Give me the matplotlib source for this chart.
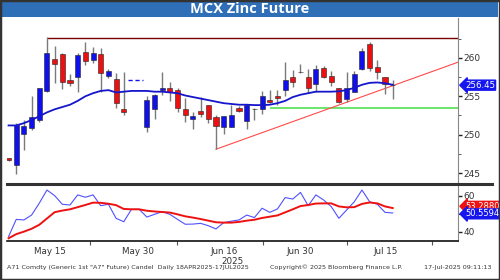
import numpy as np
import matplotlib
matplotlib.use('Agg')
import matplotlib.pyplot as plt
from matplotlib.patches import Rectangle
from matplotlib.lines import Line2D

# candle data, trading days 8 May 2025 .. 17 Jul 2025 (16, 17 = no data)
opens  = [246.9, 246.05, 250.05, 250.9, 251.9, 255.7, 259.8, 260.5, 257.1, 257.55,
          260.8, 259.75, 260.5, 257.65, 257.3, 253.3, np.nan, np.nan, 251.05, 253.3,
          255.8, 256.05, 255.8, 253.3, 252.0, 253.1, 253.8, 252.3, 250.95, 251.05,
          253.45, 251.8, 253.4, 253.3, 254.5, 255.05, 255.8, 257.5, 258.1, 257.5,
          256.6, 258.65, 257.65, 256.05, 254.6, 255.6, 258.5, 261.8, 258.8, 257.5, 256.45]
highs  = [247.0, 251.5, 251.9, 255.0, 256.1, 262.7, 261.6, 260.6, 257.9, 260.6,
          262.1, 261.4, 261.3, 258.5, 258.0, 258.1, np.nan, np.nan, 255.05, 255.3,
          258.1, 256.9, 256.05, 254.75, 253.0, 254.95, 253.85, 252.6, 252.45, 253.9,
          253.75, 254.0, 253.5, 255.7, 255.8, 255.8, 259.45, 258.45, 259.2, 258.5,
          259.1, 258.95, 258.35, 256.1, 258.1, 258.35, 261.3, 262.1, 259.75, 257.55, 257.1]
lows   = [246.6, 244.9, 248.0, 250.6, 251.7, 255.6, 256.7, 255.9, 256.35, 255.6,
          259.1, 259.3, 255.6, 257.35, 253.5, 252.6, np.nan, np.nan, 250.4, 252.0,
          255.2, 254.4, 252.9, 251.7, 250.8, 252.3, 251.5, 248.1, 250.1, 251.0,
          253.0, 250.7, 251.9, 252.65, 254.1, 253.9, 255.1, 256.2, 258.05, 255.4,
          255.6, 257.35, 256.35, 254.1, 254.2, 255.55, 258.4, 258.35, 257.2, 255.25, 254.65]
closes = [246.7, 251.2, 251.1, 252.3, 256.05, 260.6, 259.2, 256.8, 256.7, 260.35,
          259.65, 260.6, 258.0, 258.35, 254.1, 252.95, np.nan, np.nan, 254.5, 255.2,
          256.05, 255.5, 253.5, 252.5, 252.4, 252.75, 252.1, 251.15, 252.4, 252.55,
          253.1, 253.9, 253.3, 255.05, 254.2, 254.8, 257.15, 256.85, 258.2, 256.05,
          258.5, 257.55, 256.8, 254.3, 256.05, 257.9, 260.95, 258.65, 258.2, 256.55, 256.45]

ma = [251.2, 251.2, 251.5, 251.9, 252.4, 252.9, 253.3, 253.6, 253.9, 254.4,
      255.0, 255.4, 255.7, 255.8, 255.5, 255.6, 255.7, 255.7, 255.7, 255.6,
      255.6, 255.5, 255.4, 255.1, 254.9, 254.7, 254.5, 254.3, 254.1, 254.0,
      253.9, 253.9, 253.85, 253.85, 253.9, 254.1, 254.4, 254.9, 255.2, 255.4,
      255.6, 255.6, 255.6, 255.65, 255.8, 256.1, 256.5, 256.75, 256.8, 256.7, 256.5]

rsi = [37.4, 47.0, 46.7, 49.4, 56.0, 63.3, 60.2, 55.4, 55.0, 60.6,
       59.3, 60.6, 54.6, 55.4, 47.6, 45.7, 52.6, 52.6, 48.3, 49.8,
       51.3, 49.8, 47.0, 44.3, 44.4, 44.8, 43.5, 41.7, 45.2, 46.0,
       46.7, 49.4, 48.0, 53.2, 50.9, 52.8, 59.1, 58.3, 62.0, 54.6,
       60.6, 57.8, 54.1, 47.6, 52.2, 56.8, 63.3, 56.8, 55.4, 50.9, 50.56]
rsi_sig = [36.5, 38.8, 40.2, 41.8, 44.0, 47.5, 51.0, 51.9, 52.6, 53.8,
           55.0, 56.3, 56.2, 55.7, 54.9, 52.8, 52.6, 52.6, 51.8, 51.4,
           51.1, 50.8, 49.8, 48.7, 48.0, 47.2, 46.3, 45.4, 45.2, 45.2,
           45.6, 46.3, 46.8, 47.8, 48.5, 49.2, 50.9, 52.6, 54.4, 55.0,
           55.8, 55.9, 55.9, 54.2, 53.7, 53.8, 55.6, 56.4, 55.9, 54.2, 53.29]

gap_days = [16, 17]
gap_level = 257.1
resist_start, resist_level = 5, 262.6
trend_start, trend_low, trend_slope = 27, 248.1, 0.36
support_start, support_level = 34, 253.5
last_price = "256.45"
rsi_label, sig_label = "50.5594", "53.2880"

date_labels = ["May 15", "May 30", "Jun 16", "Jun 30", "Jul 15"]
date_pos = [5.4, 16.8, 28.0, 37.9, 49.1]
date_seps = [10.6, 21.9, 33.1, 44.0, 55.1]

W, H = 500, 280
fig = plt.figure(figsize=(5, 2.8), dpi=100)
fig.patch.set_facecolor('white')

def fx(px): return px / W
def fy(py): return 1 - py / H

# title bar
fig.patches.append(Rectangle((fx(2), fy(17)), fx(496), 16 / H, transform=fig.transFigure,
                             facecolor='#2E6FB7', edgecolor='none'))
fig.text(0.5, fy(9), "MCX Zinc Future", color='white', fontsize=10.5, fontweight='bold',
         ha='center', va='center', family='Open Sans')

x = np.arange(len(closes))
xl = (-0.2, 58.5)

ax = fig.add_axes([fx(7), fy(183), fx(451), 165 / H])
ax2 = fig.add_axes([fx(7), fy(241), fx(451), 56 / H])

# candles
for i in x:
    o, h, l, c = opens[i], highs[i], lows[i], closes[i]
    if np.isnan(o):
        continue
    ax.vlines(i, l, h, color='#7a7a7a', lw=1, zorder=2)
    if c > o:
        col = '#1010ee'
    elif c < o:
        col = '#ee1010'
    else:
        col = '#7a7a7a'
    bh = max(abs(c - o), 0.08)
    ax.add_patch(Rectangle((i - 0.33, min(o, c)), 0.66, bh, facecolor=col,
                           edgecolor='#222222', lw=0.4, zorder=3))

ax.hlines(gap_level, gap_days[0] - 0.5, gap_days[-1] + 0.5, colors='#1010ee',
          linestyles=(0, (3, 2)), lw=1, zorder=3)
ax.plot(x, ma, color='#1515cc', lw=1.3, zorder=4)

ax.hlines(resist_level, resist_start, xl[1], colors='#7a0000', lw=1, zorder=1)
ax.hlines(support_level, support_start, xl[1], colors='#44dd44', lw=1.1, zorder=1)
tx = np.array([trend_start, xl[1]])
ax.plot(tx, trend_low + trend_slope * (tx - trend_start), color='#ff4a4a', lw=0.8, zorder=1)

ax.set_xlim(*xl)
ax.set_ylim(243.7, 265.2)
ax.yaxis.tick_right()
ax.set_yticks([245, 250, 255, 260])
ax.set_yticks(np.arange(245, 263, 2.5), minor=True)
ax.tick_params(axis='y', which='major', length=3, width=1, labelsize=6.5, pad=1,
               colors='#222222', labelcolor='#333333')
ax.tick_params(axis='y', which='minor', length=2, width=0.6, colors='#444444')
ax.set_xticks([])
for s in ['top', 'left', 'bottom']:
    ax.spines[s].set_visible(False)
ax.spines['right'].set_color('#888888')

box = dict(boxstyle='larrow,pad=0.06', facecolor='#1515ee', edgecolor='#1515ee')
ax.text(xl[1] + 0.9, float(last_price), last_price, color='white', fontsize=6.2,
        va='center', ha='left', bbox=box, clip_on=False)

# lower panel
ax2.plot(x, rsi, color='#5050ff', lw=0.8)
ax2.plot(x, rsi_sig, color='#ee1111', lw=1.4)
ax2.set_xlim(*xl)
ax2.set_ylim(35, 66.1)
ax2.yaxis.tick_right()
ax2.set_yticks([40, 60])
ax2.set_yticks([50], minor=True)
ax2.tick_params(axis='y', which='major', length=3, width=1, labelsize=6.5, pad=1,
                colors='#222222', labelcolor='#333333')
ax2.tick_params(axis='y', which='minor', length=2, width=0.6)
ax2.set_xticks(date_seps)
ax2.set_xticklabels([])
ax2.tick_params(axis='x', length=3, width=0.8, colors='#555555')
for s in ['top', 'left']:
    ax2.spines[s].set_visible(False)
ax2.spines['right'].set_color('#888888')
ax2.spines['bottom'].set_color('#111111')
ax2.spines['bottom'].set_linewidth(1.2)

ax2.text(xl[1] + 0.9, float(sig_label) + 1.0, sig_label, color='white', fontsize=6,
         va='center', ha='left', bbox=dict(boxstyle='larrow,pad=0.05', facecolor='#ee1111',
                                           edgecolor='#ee1111'), clip_on=False)
ax2.text(xl[1] + 0.9, float(rsi_label) - 0.5, rsi_label, color='white', fontsize=6,
         va='center', ha='left', bbox=dict(boxstyle='larrow,pad=0.05', facecolor='#1515ee',
                                           edgecolor='#1515ee'), clip_on=False)

for lab, p in zip(date_labels, date_pos):
    ax2.text(p, -0.1, lab, transform=ax2.get_xaxis_transform(), ha='center', va='top',
             fontsize=6.3, color='#333333')
ax2.text(29.1, -0.28, "2025", transform=ax2.get_xaxis_transform(), ha='center', va='top',
         fontsize=6.3, color='#333333')

# separator between panels
fig.add_artist(Line2D([fx(7), fx(492)], [fy(184), fy(184)], transform=fig.transFigure,
                      color='#333333', lw=2.2))

# footer
fig.text(fx(7), fy(267), 'A71 Comdty (Generic 1st "A7" Future) Candel  Daily 18APR2025-17JUL2025',
         fontsize=4.6, color='#333333', va='center', ha='left')
fig.text(fx(270), fy(267), 'Copyright\u00a9 2025 Bloomberg Finance L.P.', fontsize=4.6,
         color='#333333', va='center', ha='left')
fig.text(fx(491), fy(267), '17-Jul-2025 09:11:13', fontsize=4.6, color='#333333',
         va='center', ha='right')

# outer frame
fig.patches.append(Rectangle((0, 0), 1, 1, transform=fig.transFigure, fill=False,
                             edgecolor='#333333', lw=2.5))

fig.savefig('out.png', dpi=100)
